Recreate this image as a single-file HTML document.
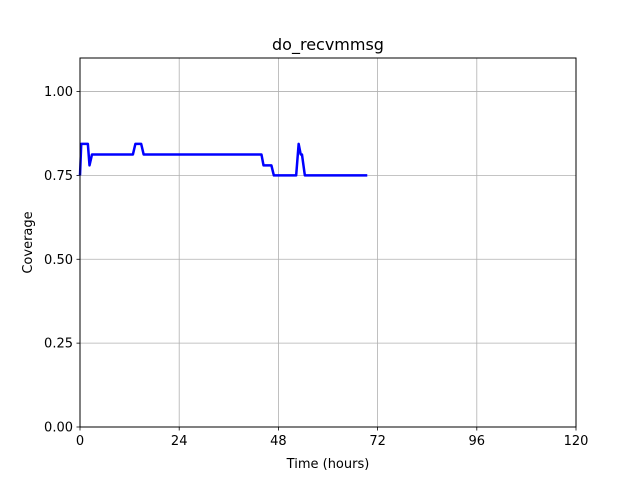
<!DOCTYPE html>
<html><head><meta charset="utf-8"><style>
body{margin:0;background:#fff;}
svg{display:block;font-family:"DejaVu Sans","Liberation Sans",sans-serif;}
</style></head><body>
<svg id="chart" width="640" height="480" xmlns="http://www.w3.org/2000/svg">
<rect width="640" height="480" fill="#fff"/>
<text x="328" y="50" text-anchor="middle" font-size="16">do_recvmmsg</text>
<g id="grid"></g>
<g id="ticks"></g>
<path id="series" fill="none" stroke="#0000ff" stroke-width="2.5" stroke-linejoin="round"/>
<rect x="80" y="58" width="496" height="369" fill="none" stroke="#000" stroke-width="1"/>
<text x="328" y="468" text-anchor="middle" font-size="13">Time (hours)</text>
<text transform="translate(32,242.5) rotate(-90)" text-anchor="middle" font-size="13">Coverage</text>
</svg>
<script>
const times = [0, 0.3, 1.9, 2.3, 2.9, 12.8, 13.4, 14.8, 15.4, 43.9, 44.4, 46.3, 46.9, 52.3, 52.9, 53.4, 53.7, 54.4, 69.5];
const coverage = [0.75, 0.844, 0.844, 0.78, 0.8125, 0.8125, 0.844, 0.844, 0.8125, 0.8125, 0.78, 0.78, 0.75, 0.75, 0.844, 0.8125, 0.8125, 0.75, 0.75];
const xTicks = [0, 24, 48, 72, 96, 120];
const yTicks = [0, 0.25, 0.5, 0.75, 1.0];
const yTickLabels = ["0.00", "0.25", "0.50", "0.75", "1.00"];

const X0=80,X1=576,Y0=427,Y1=58,XMAX=120,YMAX=1.1;
const xs=t=>X0+t/XMAX*(X1-X0);
const ys=v=>Y0-v/YMAX*(Y0-Y1);
const NS="http://www.w3.org/2000/svg";
const grid=document.getElementById('grid'),ticks=document.getElementById('ticks');
function mk(tag,attrs,parent){const e=document.createElementNS(NS,tag);for(const k in attrs)e.setAttribute(k,attrs[k]);parent.appendChild(e);return e;}
xTicks.forEach(t=>{
  const x=xs(t);
  const g=mk('line',{x1:x,x2:x,y1:Y1,y2:Y0,stroke:'#b0b0b0','stroke-width':0.8},grid);
  
  
  const tk=mk('line',{x1:x,x2:x,y1:Y0,y2:Y0+3.5,stroke:'#000','stroke-width':0.8},ticks);
  
  
  const lb=mk('text',{x:x,y:Y0+18,'text-anchor':'middle','font-size':13},ticks);
  lb.textContent=t;
  
  
});
yTicks.forEach((v,i)=>{
  const y=ys(v);
  const g=mk('line',{x1:X0,x2:X1,y1:y,y2:y,stroke:'#b0b0b0','stroke-width':0.8},grid);
  
  
  const tk=mk('line',{x1:X0-3.5,x2:X0,y1:y,y2:y,stroke:'#000','stroke-width':0.8},ticks);
  
  
  const lb=mk('text',{x:X0-7,y:y+4.5,'text-anchor':'end','font-size':13},ticks);
  lb.textContent=yTickLabels[i];
  
  
});
document.getElementById('series').setAttribute('d',times.map((t,i)=>(i?'L':'M')+xs(t).toFixed(2)+','+ys(coverage[i]).toFixed(2)).join(''));
</script>
</body></html>
